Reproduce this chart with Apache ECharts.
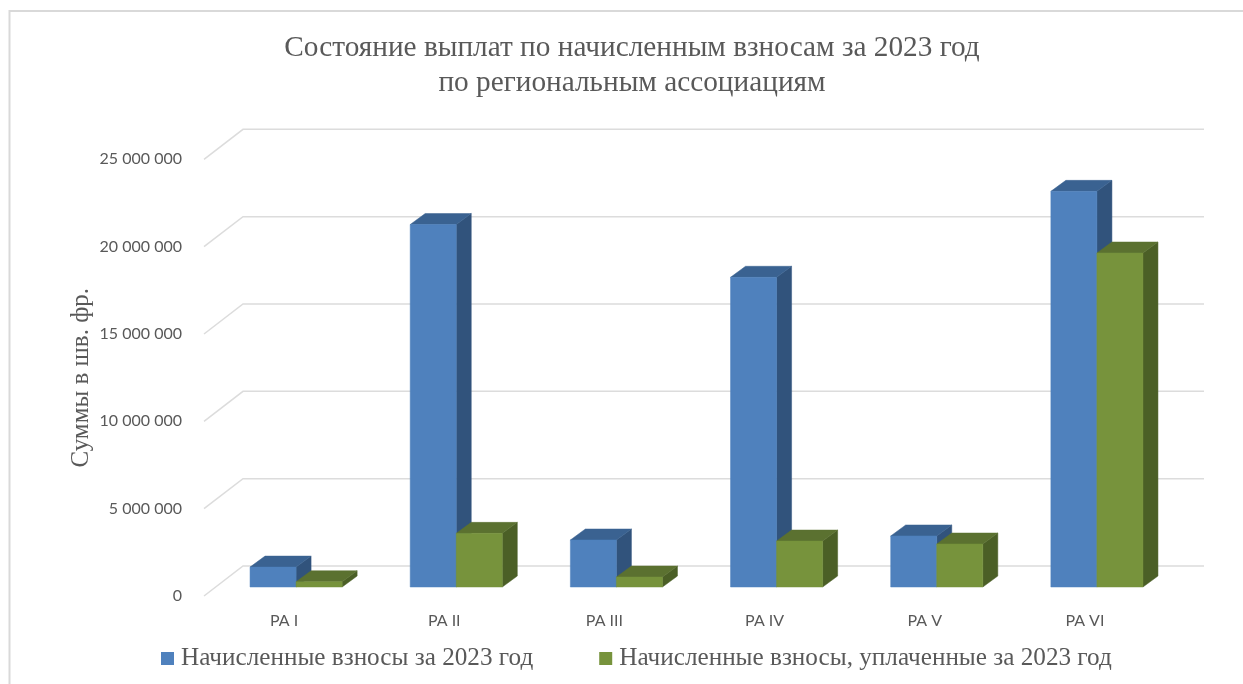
<!DOCTYPE html>
<html>
<head>
<meta charset="utf-8">
<style>html,body{margin:0;padding:0;background:#fff}#c{width:1243px;height:684px}</style>
<script src="https://cdn.jsdelivr.net/npm/echarts@6/dist/echarts.min.js"></script>
</head>
<body>
<div id="c"></div>
<script>
const categories = ['РА I', 'РА II', 'РА III', 'РА IV', 'РА V', 'РА VI'];
const assessed = [1140000, 20750000, 2690000, 17730000, 2920000, 22650000];
const paid = [300000, 3070000, 570000, 2630000, 2460000, 19120000];
const gridValues = [0, 5000000, 10000000, 15000000, 20000000, 25000000];
const titleText = 'Состояние выплат по начисленным взносам за 2023 год\nпо региональным ассоциациям';
const yAxisName = 'Суммы в шв. фр.';
const seriesNames = ['Начисленные взносы за 2023 год', 'Начисленные взносы, уплаченные за 2023 год'];

const WALL_DX = 39, WALL_DY = -30;
const BAR_SHIFT_X = 12, BAR_SHIFT_Y = -9;
const DEPTH_X = 15, DEPTH_Y = -11;

function gridRender(params, api) {
  const rect = params.coordSys;
  const y = api.coord([0, api.value(0)])[1];
  const x0 = rect.x;
  return {
    type: 'polyline',
    shape: { points: [[x0, y], [x0 + WALL_DX, y + WALL_DY], [x0 + WALL_DX + rect.width, y + WALL_DY]] },
    style: { stroke: '#dcdcdc', lineWidth: 1.5, fill: null }
  };
}

function barRender(slot, front, top, side) {
  return function (params, api) {
    const p = api.coord([api.value(0), api.value(1)]);
    const base = api.coord([api.value(0), 0]);
    const w = api.size([1, 0])[0] * 0.2875;
    const xL = p[0] + BAR_SHIFT_X + (slot === 0 ? -w : 0);
    const xR = xL + w;
    const yT = p[1] + BAR_SHIFT_Y;
    const yB = base[1] + BAR_SHIFT_Y;
    const poly = (pts, fill) => ({
      type: 'polygon',
      shape: { points: pts },
      style: { fill: fill, stroke: fill, lineWidth: 0.5 }
    });
    return {
      type: 'group',
      children: [
        poly([[xR, yT], [xR + DEPTH_X, yT + DEPTH_Y], [xR + DEPTH_X, yB + DEPTH_Y], [xR, yB]], side),
        poly([[xL, yT], [xL + DEPTH_X, yT + DEPTH_Y], [xR + DEPTH_X, yT + DEPTH_Y], [xR, yT]], top),
        poly([[xL, yT], [xR, yT], [xR, yB], [xL, yB]], front)
      ]
    };
  };
}

const chart = echarts.init(document.getElementById('c'), null, { renderer: 'canvas' });
chart.setOption({
  animation: false,
  backgroundColor: '#fff',
  title: {
    text: titleText,
    left: 627,
    top: 25.5,
    textAlign: 'center',
    textStyle: { fontFamily: 'Liberation Serif', fontSize: 29.3, fontWeight: 'normal', color: '#595959', lineHeight: 35 }
  },
  legend: {
    data: [
      { name: seriesNames[0], icon: 'rect' },
      { name: seriesNames[1], icon: 'rect' }
    ],
    left: 156,
    top: 641,
    itemWidth: 13,
    itemHeight: 13,
    itemGap: 66,
    textStyle: { fontFamily: 'Liberation Serif', fontSize: 25.2, color: '#595959', padding: [0, 0, 0, 2] }
  },
  grid: { left: 204, top: 159.3, width: 961, height: 436.7 },
  xAxis: {
    type: 'category',
    data: categories,
    axisLine: { show: false },
    axisTick: { show: false },
    splitLine: { show: false },
    axisLabel: { margin: 17, fontFamily: 'Lato', fontSize: 16, color: '#595959' }
  },
  yAxis: {
    type: 'value',
    min: 0,
    max: 25000000,
    interval: 5000000,
    name: yAxisName,
    nameLocation: 'middle',
    nameGap: 110,
    nameMoveOverlap: false,
    nameTextStyle: { fontFamily: 'Liberation Serif', fontSize: 25, color: '#595959' },
    axisLine: { show: false },
    axisTick: { show: false },
    splitLine: { show: false },
    axisLabel: {
      margin: 22,
      fontFamily: 'Lato',
      fontSize: 16,
      color: '#595959',
      formatter: v => String(v).replace(/\B(?=(\d{3})+(?!\d))/g, ' ')
    }
  },
  graphic: [{
    type: 'polyline',
    silent: true,
    z: -10,
    shape: { points: [[9.5, 690], [9.5, 11], [1250, 11]] },
    style: { fill: null, stroke: '#d9d9d9', lineWidth: 2 }
  }],
  series: [
    {
      type: 'custom', name: 'grid', z: 1, silent: true,
      coordinateSystem: 'cartesian2d',
      encode: { y: 0 },
      data: gridValues.map(v => [v]),
      renderItem: gridRender,
      clip: false
    },
    {
      type: 'custom', name: seriesNames[0], z: 2,
      itemStyle: { color: '#4f81bd' },
      encode: { x: 0, y: 1 },
      data: assessed.map((v, i) => [i, v]),
      renderItem: barRender(0, '#4f81bd', '#3a6291', '#31537c'),
      clip: false
    },
    {
      type: 'custom', name: seriesNames[1], z: 3,
      itemStyle: { color: '#77933c' },
      encode: { x: 0, y: 1 },
      data: paid.map((v, i) => [i, v]),
      renderItem: barRender(1, '#77933c', '#5b7130', '#4b5f26'),
      clip: false
    }
  ]
});
</script>
</body>
</html>
